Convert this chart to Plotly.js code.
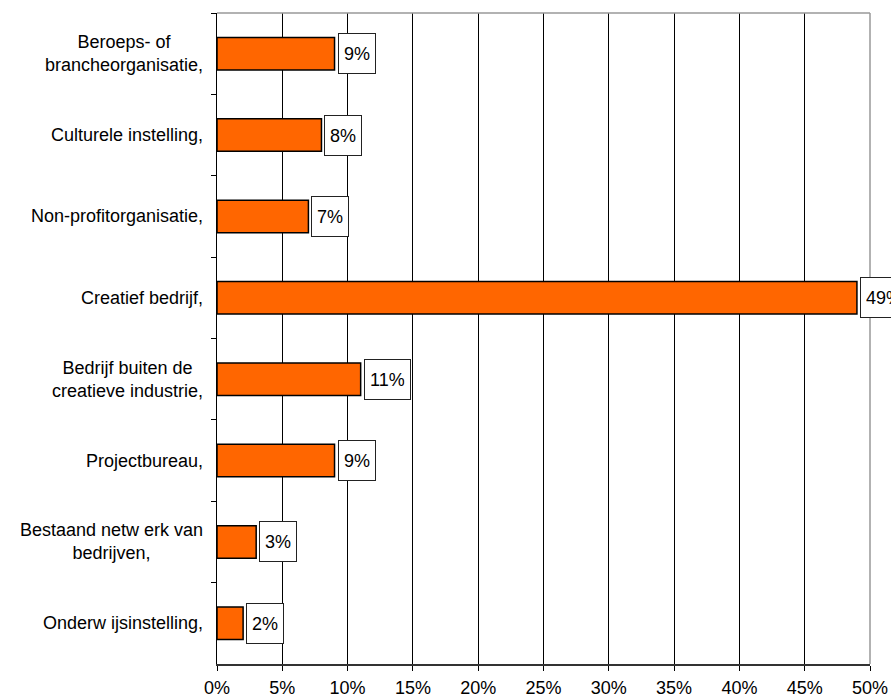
<!DOCTYPE html>
<html>
<head>
<meta charset="utf-8">
<script src="https://cdn.plot.ly/plotly-3.0.1.min.js"></script>
<style>
html,body{margin:0;padding:0;background:#fff;}
#chart{width:891px;height:699px;}
</style>
</head>
<body>
<div id="chart"></div>
<script>
// Data
const categories = [
  "Beroeps- of<br>brancheorganisatie,",
  "Culturele instelling,",
  "Non-profitorganisatie,",
  "Creatief bedrijf,",
  "Bedrijf buiten de<br>creatieve industrie,",
  "Projectbureau,",
  "Bestaand netw erk van<br>bedrijven,",
  "Onderw ijsinstelling,"
];
const values = [9, 8, 7, 49, 11, 9, 3, 2];
const valueLabels = ["9%", "8%", "7%", "49%", "11%", "9%", "3%", "2%"];
const xTickVals = [0, 5, 10, 15, 20, 25, 30, 35, 40, 45, 50];
const xTickText = ["0%", "5%", "10%", "15%", "20%", "25%", "30%", "35%", "40%", "45%", "50%"];

const FONT = "Liberation Sans, Arial, sans-serif";
const FS = 18;
const annotations = [];

// value label boxes
categories.forEach((c, i) => {
  annotations.push({
    x: values[i], y: c, xref: "x", yref: "y",
    text: valueLabels[i], showarrow: false,
    xanchor: "left", yanchor: "middle", xshift: 3,
    bgcolor: "#ffffff", bordercolor: "#222222", borderwidth: 1, borderpad: 5,
    height: 29,
    font: {family: FONT, size: FS, color: "#000"}
  });
});

// category labels (centered multi-line)
categories.forEach((c) => {
  annotations.push({
    x: 0, y: c, xref: "paper", yref: "y",
    text: c, showarrow: false, align: "center",
    xanchor: "right", yanchor: "middle", xshift: -12,
    font: {family: FONT, size: FS, color: "#000"}
  });
});

const trace = {
  type: "bar", orientation: "h",
  x: values, y: categories,
  width: 0.4,
  marker: {color: "#FF6600", line: {color: "#000000", width: 1.5}},
  hoverinfo: "none"
};

const layout = {
  width: 891, height: 699,
  margin: {l: 217, r: 21, t: 13, b: 35},
  paper_bgcolor: "#ffffff", plot_bgcolor: "#ffffff",
  showlegend: false,
  font: {family: FONT, size: FS, color: "#000"},
  xaxis: {
    range: [0, 50], tickvals: xTickVals, ticktext: xTickText,
    showgrid: true, gridcolor: "#000000", gridwidth: 1,
    zeroline: false,
    showline: true, linecolor: "#333333", linewidth: 1.5,
    ticks: "outside", ticklen: 5, tickcolor: "#000", tickwidth: 1,
    ticklabelstandoff: 2,
    tickfont: {family: FONT, size: FS, color: "#000"},
    fixedrange: true
  },
  yaxis: {
    type: "category", autorange: "reversed",
    showticklabels: false,
    tickson: "boundaries",
    ticks: "outside", ticklen: 5, tickcolor: "#000", tickwidth: 1,
    showgrid: false, zeroline: false,
    showline: true, linecolor: "#000", linewidth: 1.5,
    fixedrange: true
  },
  shapes: [
    {type: "line", xref: "paper", yref: "paper", x0: 0, x1: 1, y0: 1, y1: 1,
     line: {color: "#999999", width: 1.5}},
    {type: "line", xref: "paper", yref: "paper", x0: 1, x1: 1, y0: 0, y1: 1,
     line: {color: "#999999", width: 1.5}}
  ],
  annotations: annotations
};

Plotly.newPlot("chart", [trace], layout, {displayModeBar: false, staticPlot: true});
</script>
</body>
</html>
